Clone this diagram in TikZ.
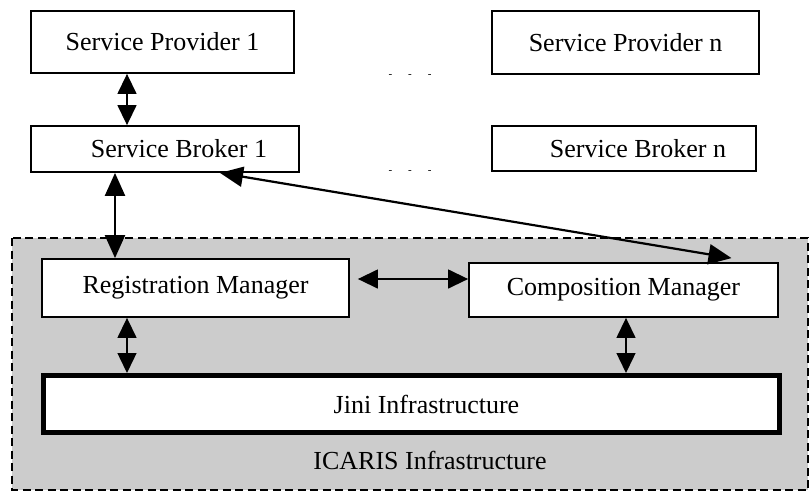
\documentclass[tikz,border=0pt]{standalone}
\usepackage{fontspec}
\setmainfont{Liberation Serif}
\usetikzlibrary{arrows.meta}
\tikzset{
  box/.style={draw, line width=1.8pt, fill=white, inner sep=0pt},
  link/.style={{Triangle[length=20pt,width=19pt]}-{Triangle[length=20pt,width=19pt]}, line width=1.4pt},
  boldlink/.style={{Triangle[length=23pt,width=20pt]}-{Triangle[length=23pt,width=20pt]}, line width=2.2pt},
  region/.style={dash pattern=on 8pt off 4.5pt, line width=2.6pt, fill=gray!40},
}
\begin{document}
\begin{tikzpicture}[x=1pt,y=-1pt,font=\fontsize{26}{30}\selectfont]
\useasboundingbox (0,0) rectangle (811,491);
% Drawing the ICARIS region
\draw[region] (12,238) rectangle (808,490);
\node (icaris) at (430,460) {ICARIS Infrastructure};
% Drawing providers and brokers
\node[box, minimum width=263pt, minimum height=62pt] (sp1) at (162.5,42) {Service Provider 1};
\node[box, minimum width=267pt, minimum height=63pt] (spn) at (625.5,42.5) {Service Provider n};
\node[box, minimum width=268pt, minimum height=46pt] (sb1) at (165,149) {\hspace*{28pt}Service Broker 1};
\node[box, minimum width=264pt, minimum height=45pt] (sbn) at (624,148.5) {\hspace*{28pt}Service Broker n};
\node[font=\fontsize{11}{11}\selectfont] (dotsp) at (410,76) {-\hspace{16pt}-\hspace{16pt}-};
\node[font=\fontsize{11}{11}\selectfont] (dotsb) at (410,172) {-\hspace{16pt}-\hspace{16pt}-};
% Drawing managers and Jini
\node[box, minimum width=307pt, minimum height=58pt] (rm) at (195.5,288) {Registration Manager};
\node[box, minimum width=309pt, minimum height=54pt] (cm) at (623.5,290) {Composition Manager};
\node[box, line width=5pt, minimum width=736pt, minimum height=57pt] (jini) at (411.5,404) {\hspace*{30pt}Jini Infrastructure};
% Done with boxes; drawing arrows
\draw[link] ([xshift=-35.5pt]sp1.south) -- ([xshift=-38pt]sb1.north);
\draw[boldlink] ([xshift=-50pt]sb1.south) -- ([xshift=-80.5pt]rm.north);
\draw[boldlink] ([xshift=55pt]sb1.south) -- ([xshift=108pt,yshift=4pt]cm.north);
\draw[link] ([xshift=8pt,yshift=9pt]rm.east) -- ([yshift=11pt]cm.west);
\draw[link] ([xshift=-68.5pt]rm.south) -- ([xshift=-284.5pt]jini.north);
\draw[link] ([xshift=2.5pt]cm.south) -- ([xshift=214.5pt]jini.north);
% Done with arrows
\end{tikzpicture}
\end{document}
